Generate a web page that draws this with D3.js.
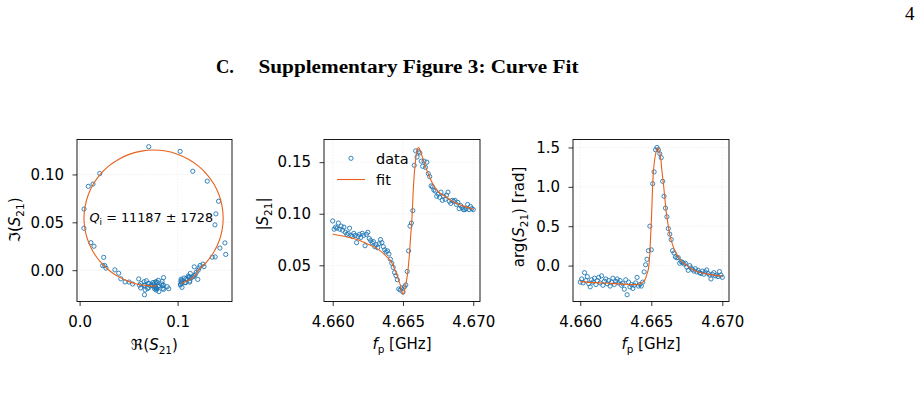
<!DOCTYPE html>
<html>
<head>
<meta charset="utf-8">
<script src="https://cdn.jsdelivr.net/npm/d3@7"></script>
<style>
  body { margin: 0; background: #fff; }
  svg text { font-family: "DejaVu Sans", sans-serif; fill: #000; }
</style>
</head>
<body>
<div id="chart"></div>
<script>
// measured probe frequencies [GHz]
const freqGHz = [
  4.6600, 4.6601, 4.6602, 4.6603, 4.6604, 4.6605, 4.6606, 4.6607, 4.6608, 4.6609,
  4.6610, 4.6611, 4.6612, 4.6613, 4.6614, 4.6615, 4.6616, 4.6617, 4.6618, 4.6619,
  4.6620, 4.6621, 4.6622, 4.6623, 4.6624, 4.6625, 4.6626, 4.6627, 4.6628, 4.6629,
  4.6630, 4.6631, 4.6632, 4.6633, 4.6634, 4.6635, 4.6636, 4.6637, 4.6638, 4.6639,
  4.6640, 4.6641, 4.6642, 4.6643, 4.6644, 4.6645, 4.6646, 4.6647, 4.6648, 4.6649,
  4.6650, 4.6651, 4.6652, 4.6653, 4.6654, 4.6655, 4.6656, 4.6657, 4.6658, 4.6659,
  4.6660, 4.6661, 4.6662, 4.6663, 4.6664, 4.6665, 4.6666, 4.6667, 4.6668, 4.6669,
  4.6670, 4.6671, 4.6672, 4.6673, 4.6674, 4.6675, 4.6676, 4.6677, 4.6678, 4.6679,
  4.6680, 4.6681, 4.6682, 4.6683, 4.6684, 4.6685, 4.6686, 4.6687, 4.6688, 4.6689,
  4.6690, 4.6691, 4.6692, 4.6693, 4.6694, 4.6695, 4.6696, 4.6697, 4.6698, 4.6699,
  4.6700
];

// |S21| data
const magData = [
  0.093, 0.085, 0.087, 0.086, 0.091, 0.085, 0.088, 0.084, 0.087, 0.082,
  0.080, 0.081, 0.086, 0.079, 0.078, 0.081, 0.079, 0.072, 0.078, 0.080,
  0.077, 0.081, 0.079, 0.069, 0.080, 0.082, 0.076, 0.074, 0.072, 0.073,
  0.068, 0.070, 0.067, 0.071, 0.075, 0.072, 0.068, 0.065, 0.063, 0.064,
  0.061, 0.056, 0.052, 0.048, 0.043, 0.040, 0.036, 0.027, 0.026, 0.028,
  0.024, 0.029, 0.031, 0.044, 0.064, 0.088, 0.091, 0.103, 0.147, 0.161,
  0.155, 0.160, 0.159, 0.151, 0.146, 0.151, 0.145, 0.150, 0.139, 0.136,
  0.127, 0.126, 0.123, 0.122, 0.117, 0.119, 0.116, 0.121, 0.113, 0.117,
  0.114, 0.118, 0.121, 0.112, 0.110, 0.113, 0.112, 0.113, 0.109, 0.111,
  0.105, 0.108, 0.106, 0.104, 0.104, 0.105, 0.109, 0.104, 0.107, 0.105,
  0.104
];

// arg(S21) data [rad]
const phaseData = [
  -0.21, -0.17, -0.22, -0.09, -0.19, -0.14, -0.23, -0.27, -0.18, -0.21,
  -0.16, -0.24, -0.19, -0.15, -0.22, -0.13, -0.25, -0.20, -0.17, -0.23,
  -0.19, -0.26, -0.21, -0.16, -0.24, -0.20, -0.17, -0.22, -0.19, -0.25,
  -0.23, -0.30, -0.18, -0.37, -0.21, -0.27, -0.24, -0.29, -0.25, -0.22,
  -0.15, -0.26, -0.24, -0.26, -0.21, -0.08, 0.01, 0.08, 0.19, 0.50,
  0.20, 1.04, 1.19, 1.47, 1.50, 1.47, 1.42, 1.37, 1.07, 0.88,
  0.73, 0.62, 0.47, 0.40, 0.33, 0.19, 0.16, 0.11, 0.10, 0.10,
  0.03, 0.05, 0.04, 0.02, 0.03, -0.02, -0.06, 0.00, -0.03, -0.05,
  -0.07, -0.04, -0.08, -0.06, -0.09, -0.10, -0.07, -0.11, -0.08, -0.055,
  -0.10, -0.12, -0.17, -0.11, -0.09, -0.13, -0.12, -0.14, -0.076, -0.12,
  -0.15
];

// fitted resonance curve, sampled
const fitFreq = [
  4.6600, 4.6610, 4.6618, 4.6624, 4.6633, 4.6638, 4.6642, 4.6644, 4.66457, 4.6647,
  4.66483, 4.6649, 4.66496, 4.66503, 4.66508, 4.66513, 4.6652, 4.66527, 4.66533, 4.66538,
  4.66542, 4.66546, 4.66549, 4.66555, 4.66562, 4.66566, 4.6657, 4.66573, 4.66577, 4.66581,
  4.66586, 4.6659, 4.66594, 4.66598, 4.66602, 4.66607, 4.66613, 4.66619, 4.66626, 4.66635,
  4.66647, 4.66661, 4.66682, 4.66707, 4.66752, 4.6680, 4.6686, 4.6693, 4.6700
];
const fitMag = [
  0.0801, 0.0775, 0.0748, 0.0712, 0.0650, 0.0588, 0.0526, 0.0465, 0.0406, 0.0350,
  0.0299, 0.0257, 0.0229, 0.0221, 0.0236, 0.0269, 0.0315, 0.0368, 0.0426, 0.0485,
  0.0547, 0.0609, 0.0670, 0.0793, 0.0911, 0.1023, 0.1129, 0.1227, 0.1316, 0.1395,
  0.1465, 0.1523, 0.1570, 0.1605, 0.1629, 0.1640, 0.1639, 0.1626, 0.1600, 0.1563,
  0.1514, 0.1454, 0.1383, 0.1302, 0.1211, 0.1169, 0.1114, 0.1074, 0.1045
];
const fitPhase = [
  -0.203, -0.216, -0.222, -0.229, -0.239, -0.242, -0.234, -0.212, -0.173, -0.106,
  -0.003, 0.168, 0.399, 0.673, 0.936, 1.142, 1.287, 1.382, 1.439, 1.472,
  1.489, 1.492, 1.487, 1.459, 1.416, 1.363, 1.303, 1.238, 1.171, 1.101,
  1.029, 0.956, 0.882, 0.807, 0.733, 0.657, 0.581, 0.506, 0.431, 0.356,
  0.282, 0.209, 0.138, 0.068, -0.001, -0.060, -0.095, -0.118, -0.135
];

// tick values
const reTicks = [0.0, 0.1];
const imTicks = [0.00, 0.05, 0.10];
const freqTicks = [4.660, 4.665, 4.670];
const magTicks = [0.05, 0.10, 0.15];
const phaseTicks = [0.0, 0.5, 1.0, 1.5];

const qiText = " = 11187 ± 1728";

const width = 916, height = 395;
const axTop = 139.5, axBottom = 301.5;
const dataColor = "#1f77b4";
const fitColor = "#e8611c";
const fs = 15;

const svg = d3.select("#chart").append("svg")
  .attr("width", width)
  .attr("height", height);

// text with italic / subscript pieces (mathtext-ish)
function richText(parent, x, y, pieces, size) {
  const t = parent.append("text")
    .attr("x", x)
    .attr("y", y)
    .attr("font-size", size);
  let shift = 0;
  pieces.forEach(([s, st]) => {
    const sp = t.append("tspan").text(s);
    const target = st === "sub" ? size * 0.25 : 0;
    if (target !== shift) { sp.attr("dy", target - shift); shift = target; }
    if (st === "i") sp.attr("font-style", "italic");
    if (st === "sub") sp.attr("font-size", size * 0.7);
  });
  return t;
}

function drawPanel(cfg) {
  const x = d3.scaleLinear().domain(cfg.xDomain).range([cfg.x0, cfg.x1]);
  const y = d3.scaleLinear().domain(cfg.yDomain).range([axBottom, axTop]);
  const g = svg.append("g");

  // grid
  g.append("g").selectAll("line").data(cfg.xTicks).join("line")
    .attr("x1", d => x(d)).attr("x2", d => x(d))
    .attr("y1", axTop).attr("y2", axBottom)
    .attr("stroke", "#e8e8e8").attr("stroke-width", 0.6)
    .attr("stroke-dasharray", "1.5,1.5");
  g.append("g").selectAll("line").data(cfg.yTicks).join("line")
    .attr("x1", cfg.x0).attr("x2", cfg.x1)
    .attr("y1", d => y(d)).attr("y2", d => y(d))
    .attr("stroke", "#e8e8e8").attr("stroke-width", 0.6)
    .attr("stroke-dasharray", "1.5,1.5");

  // axes
  const xAxis = g.append("g")
    .attr("transform", `translate(0,${axBottom})`)
    .call(d3.axisBottom(x).tickValues(cfg.xTicks).tickFormat(d3.format(cfg.xFmt))
      .tickSize(4.5).tickPadding(10));
  const yAxis = g.append("g")
    .attr("transform", `translate(${cfg.x0},0)`)
    .call(d3.axisLeft(y).tickValues(cfg.yTicks).tickFormat(d3.format(cfg.yFmt))
      .tickSize(4.5).tickPadding(8.5));
  [xAxis, yAxis].forEach(a => {
    a.select(".domain").remove();
    a.selectAll("line").attr("stroke", "#000").attr("stroke-width", 0.8);
    a.selectAll("text").attr("font-size", fs)
      .attr("font-family", null).attr("fill", "#000");
  });

  return { g, x, y };
}

// ---- panel 1: complex plane
const p1 = drawPanel({
  x0: 77, x1: 232, xDomain: [-0.00265, 0.1555], yDomain: [-0.0327, 0.1365],
  xTicks: reTicks, yTicks: imTicks, xFmt: ".1f", yFmt: ".2f"
});
const cplx = magData.map((m, i) => [m * Math.cos(phaseData[i]), m * Math.sin(phaseData[i])]);
const cplxFit = fitMag.map((m, i) => [m * Math.cos(fitPhase[i]), m * Math.sin(fitPhase[i])]);
p1.g.append("g").selectAll("circle").data(cplx).join("circle")
  .attr("cx", d => p1.x(d[0])).attr("cy", d => p1.y(d[1]))
  .attr("r", 2.1).attr("fill", "none")
  .attr("stroke", dataColor).attr("stroke-width", 0.9);
p1.g.append("path").datum(cplxFit)
  .attr("d", d3.line().x(d => p1.x(d[0])).y(d => p1.y(d[1])).curve(d3.curveCatmullRom))
  .attr("fill", "none").attr("stroke", fitColor).attr("stroke-width", 1.1);
richText(p1.g, 89.5, 222, [["Q", "i"], ["i", "sub"], [qiText, ""]], 12.8);

// ---- panel 2: |S21|
const p2 = drawPanel({
  x0: 324, x1: 480, xDomain: [4.65938, 4.67048], yDomain: [0.0149, 0.1720],
  xTicks: freqTicks, yTicks: magTicks, xFmt: ".3f", yFmt: ".2f"
});
p2.g.append("g").selectAll("circle").data(freqGHz).join("circle")
  .attr("cx", d => p2.x(d)).attr("cy", (d, i) => p2.y(magData[i]))
  .attr("r", 2.1).attr("fill", "none")
  .attr("stroke", dataColor).attr("stroke-width", 0.9);
p2.g.append("path").datum(fitFreq)
  .attr("d", d3.line().x(d => p2.x(d)).y((d, i) => p2.y(fitMag[i])).curve(d3.curveMonotoneX))
  .attr("fill", "none").attr("stroke", fitColor).attr("stroke-width", 1.1);

// legend
const leg = p2.g.append("g");
leg.append("circle").attr("cx", 351).attr("cy", 158.3).attr("r", 2.1)
  .attr("fill", "none").attr("stroke", dataColor).attr("stroke-width", 0.9);
leg.append("text").attr("x", 376).attr("y", 163.5).attr("font-size", 14.5).text("data");
leg.append("line").attr("x1", 337).attr("x2", 365).attr("y1", 179.5).attr("y2", 179.5)
  .attr("stroke", fitColor).attr("stroke-width", 1.1);
leg.append("text").attr("x", 376).attr("y", 185).attr("font-size", 14.5).text("fit");

// ---- panel 3: arg(S21)
const p3 = drawPanel({
  x0: 573, x1: 729, xDomain: [4.65949, 4.67047], yDomain: [-0.456, 1.601],
  xTicks: freqTicks, yTicks: phaseTicks, xFmt: ".3f", yFmt: ".1f"
});
p3.g.append("g").selectAll("circle").data(freqGHz).join("circle")
  .attr("cx", d => p3.x(d)).attr("cy", (d, i) => p3.y(phaseData[i]))
  .attr("r", 2.1).attr("fill", "none")
  .attr("stroke", dataColor).attr("stroke-width", 0.9);
p3.g.append("path").datum(fitFreq)
  .attr("d", d3.line().x(d => p3.x(d)).y((d, i) => p3.y(fitPhase[i])).curve(d3.curveMonotoneX))
  .attr("fill", "none").attr("stroke", fitColor).attr("stroke-width", 1.1);

// frames on top
[[77, 232], [324, 480], [573, 729]].forEach(([a, b]) => {
  svg.append("rect").attr("x", a).attr("y", axTop).attr("width", b - a).attr("height", axBottom - axTop)
    .attr("fill", "none").attr("stroke", "#000").attr("stroke-width", 0.9);
});

// axis labels
richText(svg, 154.5, 350, [["ℜ(", ""], ["S", "i"], ["21", "sub"], [")", ""]], fs).attr("text-anchor", "middle");
richText(svg, 402, 349, [["f", "i"], ["p", "sub"], [" [GHz]", ""]], fs).attr("text-anchor", "middle");
richText(svg, 651, 349, [["f", "i"], ["p", "sub"], [" [GHz]", ""]], fs).attr("text-anchor", "middle");
richText(svg, 0, 0, [["ℑ(", ""], ["S", "i"], ["21", "sub"], [")", ""]], fs)
  .attr("text-anchor", "middle").attr("transform", "translate(20,220) rotate(-90)");
richText(svg, 0, 0, [["|", ""], ["S", "i"], ["21", "sub"], ["|", ""]], fs)
  .attr("text-anchor", "middle").attr("transform", "translate(268,214) rotate(-90)");
richText(svg, 0, 0, [["arg(", ""], ["S", "i"], ["21", "sub"], [") [rad]", ""]], fs)
  .attr("text-anchor", "middle").attr("transform", "translate(524,217) rotate(-90)");

// section heading and page number
svg.append("text").attr("x", 216).attr("y", 72.5)
  .style("font-family", "'Liberation Serif', serif").attr("font-weight", "bold").attr("font-size", 18.5)
  .text("C.");
svg.append("text").attr("x", 258.5).attr("y", 72.5)
  .style("font-family", "'Liberation Serif', serif").attr("font-weight", "bold").attr("font-size", 18.5)
  .attr("textLength", 320).attr("lengthAdjust", "spacingAndGlyphs")
  .text("Supplementary Figure 3: Curve Fit");
svg.append("text").attr("x", 905).attr("y", 20)
  .style("font-family", "'Liberation Serif', serif").attr("font-size", 19)
  .text("4");
</script>
</body>
</html>
